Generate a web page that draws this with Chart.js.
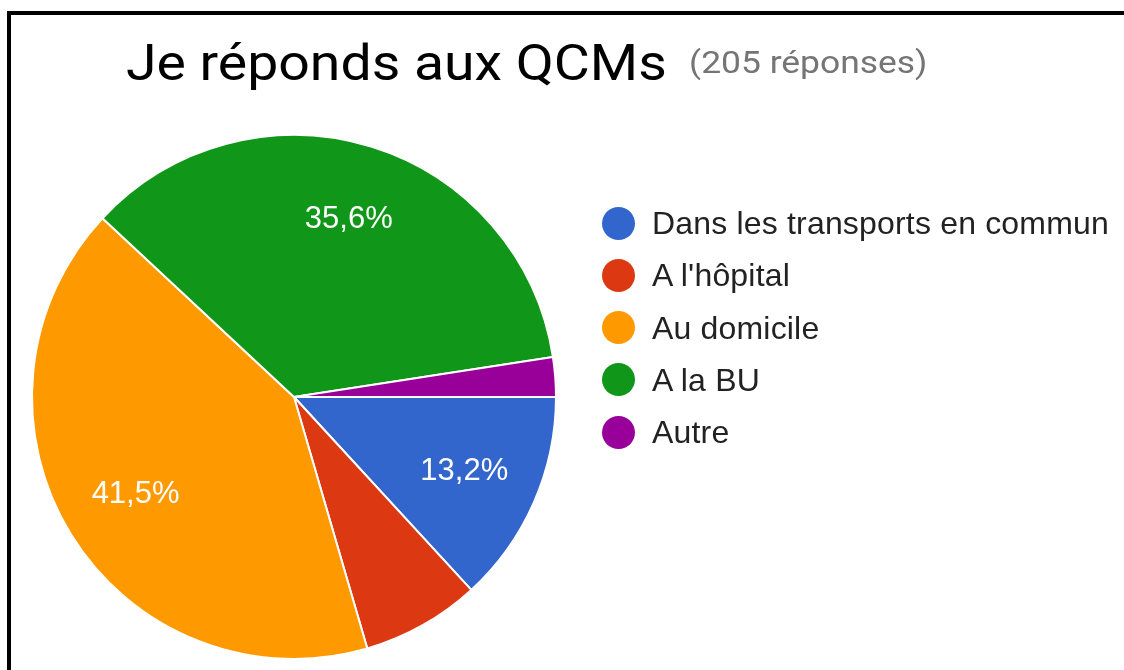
<!DOCTYPE html>
<html>
<head>
<meta charset="utf-8">
<script src="https://cdn.jsdelivr.net/npm/chart.js@4/dist/chart.umd.min.js"></script>
<style>
    html, body { margin: 0; padding: 0; background: #fff; overflow: hidden; }
    body { width: 1124px; height: 670px; position: relative; }
    .frame { position: absolute; left: 7px; top: 11px; width: 1300px; height: 900px; border: 4px solid #000; }
    #pie { position: absolute; left: 0; top: 0; }
    .title, .sub { position: absolute; line-height: 1; white-space: nowrap; transform: scaleX(1.107); transform-origin: 0 0; }
    .title { left: 126px; top: 34px; font: 50px Roboto, sans-serif; color: #000; }
    .sub { left: 689px; top: 43px; font: 32px Roboto, sans-serif; color: #757575; }
    .legend-item { position: absolute; left: 602px; height: 34px; display: flex; align-items: center; }
    .legend-item .dot { width: 33px; height: 33px; border-radius: 50%; margin-right: 17px; }
    .legend-item span { font: 32px "Liberation Sans", Arial, sans-serif; letter-spacing: 0.18px; color: #222; white-space: nowrap; line-height: 1; }
</style>
</head>
<body>
<div class="frame"></div>
<canvas id="pie" width="1124" height="670"></canvas>
<div class="title">Je réponds aux QCMs</div>
<div class="sub">(205 réponses)</div>
<div id="legend"></div>

<script>
// données du graphique
const labels = ['Dans les transports en commun', "A l'hôpital", 'Au domicile', 'A la BU', 'Autre']
const counts = [27, 15, 85, 73, 5]
const colors = ['#3366cc', '#dc3912', '#ff9900', '#109618', '#990099']

const total = counts.reduce((a, b) => a + b, 0)

// légende à droite
const legend = document.getElementById('legend')
labels.forEach((label, i) => {
    const item = document.createElement('div')
    item.className = 'legend-item'
    item.style.top = (206 + i * 52.3) + 'px'
    item.innerHTML = `<div class="dot" style="background:${colors[i]}"></div><span>${label}</span>`
    legend.appendChild(item)
})

// pourcentages dans les parts (>= 10 %)
const sliceLabels = {
    id: 'sliceLabels',
    afterDatasetsDraw(chart) {
        const ctx = chart.ctx
        const meta = chart.getDatasetMeta(0)
        ctx.save()
        ctx.fillStyle = '#fff'
        ctx.font = '31px "Liberation Sans", Arial, sans-serif'
        ctx.textAlign = 'center'
        ctx.textBaseline = 'middle'
        meta.data.forEach((arc, i) => {
            const pct = counts[i] / total * 100
            if (pct < 10) return
            const p = arc.getProps(['x', 'y', 'startAngle', 'endAngle', 'outerRadius'], true)
            const mid = (p.startAngle + p.endAngle) / 2
            const r = p.outerRadius * 0.71
            const txt = pct.toFixed(1).replace('.', ',') + '%'
            ctx.fillText(txt, p.x + Math.cos(mid) * r, p.y + Math.sin(mid) * r)
        })
        ctx.restore()
    }
}

new Chart(document.getElementById('pie'), {
    type: 'pie',
    data: {
        labels: labels,
        datasets: [{
            data: counts,
            backgroundColor: colors,
            borderColor: '#fff',
            borderWidth: 2,
            hoverOffset: 0
        }]
    },
    options: {
        responsive: false,
        animation: false,
        rotation: 90,
        layout: { padding: { left: 31, top: 134, right: 567, bottom: 10 } },
        plugins: {
            legend: { display: false },
            tooltip: { enabled: false }
        }
    },
    plugins: [sliceLabels]
})
</script>
</body>
</html>
